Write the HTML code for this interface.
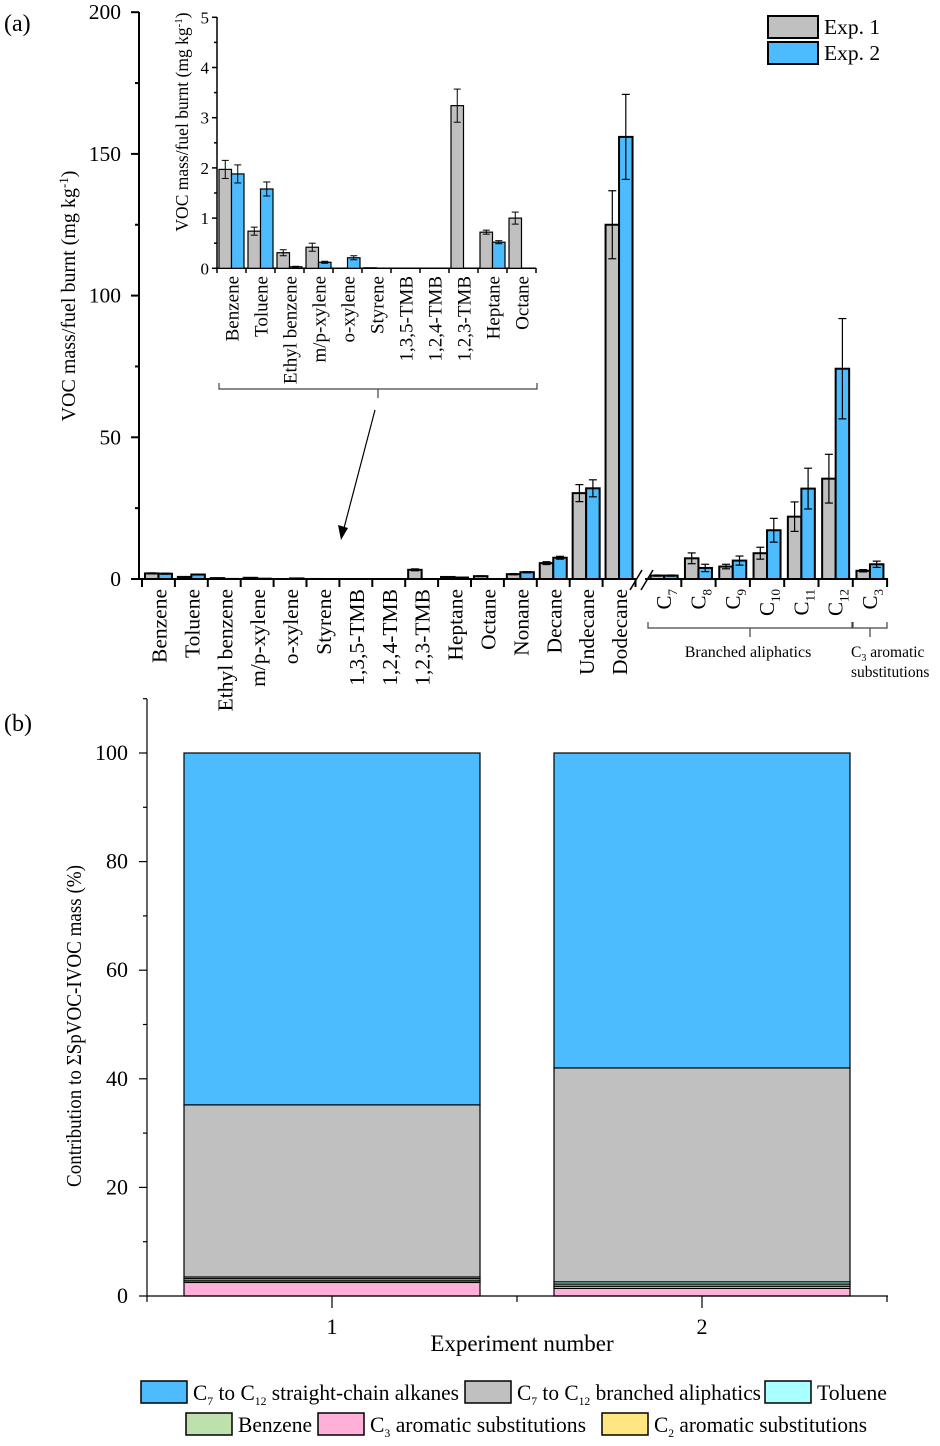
<!DOCTYPE html>
<html><head><meta charset="utf-8">
<style>
html,body{margin:0;padding:0;background:#fff;}
svg{display:block;font-family:"Liberation Serif",serif;}
</style></head>
<body>
<svg id="chart" width="940" height="1446" viewBox="0 0 940 1446" xmlns="http://www.w3.org/2000/svg"></svg>
<script>
// ---------- data (panel a) ----------
const straightCats = ["Benzene","Toluene","Ethyl benzene","m/p-xylene","o-xylene","Styrene","1,3,5-TMB","1,2,4-TMB","1,2,3-TMB","Heptane","Octane","Nonane","Decane","Undecane","Dodecane"];
const branchedCats = ["7","8","9","10","11","12","3"];
const exp1Values = [1.97,0.74,0.31,0.42,0,0.01,0,0,3.24,0.72,1.0,1.7,5.6,30.3,125, 1.2,7.3,4.4,9.1,22,35.4,2.9];
const exp2Values = [1.88,1.58,0.03,0.12,0.21,0,0,0,0,0.52,0,2.4,7.5,32,156, 1.2,3.9,6.5,17.2,31.9,74.2,5.2];
const exp1Errors = [0.18,0.08,0.06,0.08,0,0,0,0,0.33,0.04,0.12,0.2,0.5,3,12, 0.2,1.9,0.8,2.1,5.2,8.6,0.4];
const exp2Errors = [0.18,0.14,0.01,0.02,0.04,0,0,0,0,0.03,0,0.2,0.5,3,15, 0.2,1.3,1.6,4.2,7.2,17.7,1.1];
const mainTicks = [0,50,100,150,200];
const insetTicks = [0,1,2,3,4,5];
const insetCount = 11;
// ---------- data (panel b) ----------
const experiments = ["1","2"];
const stackNames = ["C3 aromatic substitutions","C2 aromatic substitutions","Benzene","Toluene","C7 to C12 branched aliphatics","C7 to C12 straight-chain alkanes"];
const stackExp1 = [2.5,0.3,0.4,0.3,31.7,64.8];
const stackExp2 = [1.4,0.4,0.4,0.4,39.4,58.0];
const pctTicks = [0,20,40,60,80,100];

const NS="http://www.w3.org/2000/svg";
const svg=document.getElementById('chart');
function mk(tag,attrs,parent){const e=document.createElementNS(NS,tag);for(const k in attrs)e.setAttribute(k,attrs[k]);(parent||svg).appendChild(e);return e;}
const GRAY="#c0c0c0",BLUE="#4cbcff";

// ===== Panel a =====
const yMain=v=>579-v*2.834;
const xSeg1=i=>142+32.9*(i+0.5);
const xSeg2=j=>647+34.3*(j+0.5);
const xCat=i=>i<straightCats.length?xSeg1(i):xSeg2(i-straightCats.length);

let t=mk('text',{x:4,y:31,'font-size':24});t.textContent="(a)";


const axA=mk('g',{stroke:'#000','stroke-width':2,fill:'none'});

mk('line',{x1:139,y1:12,x2:139,y2:580},axA);
mk('line',{x1:138,y1:579,x2:636,y2:579},axA);
mk('line',{x1:645,y1:579,x2:888,y2:579},axA);
for(let i=0;i<=straightCats.length;i++){const x=142+32.9*i;mk('line',{x1:x,y1:579,x2:x,y2:587},axA);}
for(let j=1;j<=branchedCats.length;j++){const x=647+34.3*j;mk('line',{x1:x,y1:579,x2:x,y2:587},axA);}
mk('line',{x1:630,y1:590,x2:642,y2:570,'stroke-width':1.5},axA);
mk('line',{x1:641,y1:590,x2:653,y2:570,'stroke-width':1.5},axA);
mainTicks.forEach(v=>{
  mk('line',{x1:131,y1:yMain(v),x2:139,y2:yMain(v)},axA);
  if(v<200) mk('line',{x1:135,y1:yMain(v+25),x2:139,y2:yMain(v+25)},axA);
  const tt=mk('text',{x:121,y:yMain(v)+7,'font-size':21.5,'text-anchor':'end'});tt.textContent=v;
  
});
t=mk('text',{transform:'translate(75,296) rotate(-90)','font-size':20,'text-anchor':'middle'});
t.innerHTML='VOC mass/fuel burnt (mg kg<tspan dy="-7" font-size="13">-1</tspan><tspan dy="7">)</tspan>';


function errBar(g,x,v,e,ys,cap){if(e<=0)return;
  mk('line',{x1:x,y1:ys(v-e),x2:x,y2:ys(v+e)},g);
  mk('line',{x1:x-cap,y1:ys(v+e),x2:x+cap,y2:ys(v+e)},g);
  mk('line',{x1:x-cap,y1:ys(Math.max(0,v-e)),x2:x+cap,y2:ys(Math.max(0,v-e))},g);}

const barsA=mk('g',{});
exp1Values.forEach((v,i)=>{
  const cx=xCat(i);const w=13.5;
  [[v,exp1Errors[i],GRAY,cx-w],[exp2Values[i],exp2Errors[i],BLUE,cx]].forEach((d,k)=>{
    if(d[0]<=0)return;
    const r=mk('rect',{x:d[3],y:yMain(d[0]),width:w,height:579-yMain(d[0]),fill:d[2],stroke:'#000','stroke-width':2},barsA);
    
    const eg=mk('g',{stroke:'#000','stroke-width':1.2},barsA);
    errBar(eg,d[3]+w/2,d[0],d[1],yMain,4);
  });
});
straightCats.forEach((c,i)=>{
  const tt=mk('text',{transform:`translate(${xCat(i)+8},589) rotate(-90)`,'font-size':21.5,'text-anchor':'end'});
  tt.textContent=c;
});
branchedCats.forEach((c,j)=>{
  const tt=mk('text',{transform:`translate(${xSeg2(j)+7},589) rotate(-90)`,'font-size':21,'text-anchor':'end'});
  tt.innerHTML='C<tspan dy="6" font-size="13">'+c+'</tspan>';
  
});
function brace(x1,x2,y,h){const m=(x1+x2)/2;
  return `M${x1},${y-6} L${x1},${y} L${m},${y} L${m},${y+h} M${m},${y} L${x2},${y} L${x2},${y-6}`;}
let b=mk('path',{d:brace(648,852,628,9),stroke:'#444',fill:'none','stroke-width':1.2});

b=mk('path',{d:brace(853,887,628,9),stroke:'#444',fill:'none','stroke-width':1.2});

t=mk('text',{x:748,y:657,'font-size':16,'text-anchor':'middle'});t.textContent="Branched  aliphatics";

t=mk('text',{x:851,y:657,'font-size':15.5});t.innerHTML='C<tspan dy="4" font-size="10">3</tspan><tspan dy="-4"> aromatic</tspan>';

t=mk('text',{x:851,y:677,'font-size':15.5});t.textContent="substitutions";


// legend a
const legA=mk('g',{});
[["Exp. 1",GRAY,16],["Exp. 2",BLUE,42]].forEach(d=>{
  const r=mk('rect',{x:768,y:d[2],width:50,height:22,fill:d[1],stroke:'#000','stroke-width':2},legA);
  
  const tt=mk('text',{x:824,y:d[2]+18,'font-size':21.5},legA);tt.textContent=d[0];
  
});

// inset
const yIn=v=>268.3-v*50.2;
const xIn=i=>217+29*(i+0.5);
const axI=mk('g',{stroke:'#000','stroke-width':1.5,fill:'none'});

mk('line',{x1:217,y1:17,x2:217,y2:269},axI);
mk('line',{x1:216,y1:268.3,x2:536,y2:268.3},axI);
for(let i=0;i<=insetCount;i++)mk('line',{x1:217+29*i,y1:268,x2:217+29*i,y2:273},axI);
insetTicks.forEach(v=>{mk('line',{x1:212,y1:yIn(v),x2:217,y2:yIn(v)},axI);
  if(v<5)mk('line',{x1:214,y1:yIn(v+0.5),x2:217,y2:yIn(v+0.5)},axI);
  const tt=mk('text',{x:209,y:yIn(v)+6,'font-size':17,'text-anchor':'end'});tt.textContent=v;
  });
t=mk('text',{transform:'translate(188,122) rotate(-90)','font-size':17.5,'text-anchor':'middle'});
t.innerHTML='VOC mass/fuel burnt (mg kg<tspan dy="-6" font-size="11">-1</tspan><tspan dy="6">)</tspan>';

for(let i=0;i<insetCount;i++){
  const cx=xIn(i),w=12.5;
  [[exp1Values[i],exp1Errors[i],GRAY,cx-w],[exp2Values[i],exp2Errors[i],BLUE,cx]].forEach((d,k)=>{
    if(d[0]<=0)return;
    const r=mk('rect',{x:d[3],y:yIn(d[0]),width:w,height:268.3-yIn(d[0]),fill:d[2],stroke:'#000','stroke-width':1.2});
    
    const eg=mk('g',{stroke:'#000','stroke-width':1});errBar(eg,d[3]+w/2,d[0],d[1],yIn,3.5);
  });
  const tt=mk('text',{transform:`translate(${cx+7},276) rotate(-90)`,'font-size':19,'text-anchor':'end'});
  tt.textContent=straightCats[i];
}
b=mk('path',{d:brace(219,537,389,9),stroke:'#444',fill:'none','stroke-width':1.2});

const ar=mk('g',{});
mk('line',{x1:375,y1:410,x2:344,y2:528,stroke:'#000','stroke-width':1.2},ar);
mk('path',{d:'M341,540 L338,525 L348,528 Z',fill:'#000'},ar);

// ===== Panel b =====
t=mk('text',{x:4,y:731,'font-size':24});t.textContent="(b)";

const yB=v=>1296-v*5.43;
const xBar=[184,554],bw=296;
const stackColors=["#ffb0d8","#ffe680","#bde0ad","#aaffff",GRAY,BLUE];
[stackExp1,stackExp2].forEach((vals,e)=>{
  let acc=0;
  vals.forEach((v,k)=>{
    const r=mk('rect',{x:xBar[e],y:yB(acc+v),width:bw,height:v*5.43,fill:stackColors[k],stroke:'#000','stroke-width':1.2});
    
    acc+=v;
  });
});
const axB=mk('g',{stroke:'#000','stroke-width':1.2,fill:'none'});

mk('line',{x1:147,y1:699,x2:147,y2:1296},axB);
mk('line',{x1:147,y1:1296,x2:888,y2:1296},axB);
pctTicks.forEach(v=>{mk('line',{x1:139,y1:yB(v),x2:147,y2:yB(v)},axB);
  mk('line',{x1:143,y1:yB(v+10),x2:147,y2:yB(v+10)},axB);
  const tt=mk('text',{x:128,y:yB(v)+7,'font-size':22,'text-anchor':'end'});tt.textContent=v;
  });
[147,517,887].forEach(x=>mk('line',{x1:x,y1:1296,x2:x,y2:1302},axB));
experiments.forEach((c,e)=>{const x=xBar[e]+bw/2;mk('line',{x1:x,y1:1296,x2:x,y2:1308},axB);
  const tt=mk('text',{x:x,y:1334,'font-size':22,'text-anchor':'middle'});tt.textContent=c;
  });
t=mk('text',{x:522,y:1351,'font-size':23,'text-anchor':'middle'});t.textContent="Experiment number";

t=mk('text',{transform:'translate(81,1026) rotate(-90)','font-size':21,'text-anchor':'middle',textLength:322,lengthAdjust:'spacingAndGlyphs'});t.textContent="Contribution to ΣSpVOC-IVOC mass (%)";


// legend b
const legB=[
 [141,1381,BLUE,'C<tspan dy="5" font-size="12">7</tspan><tspan dy="-5"> to C</tspan><tspan dy="5" font-size="12">12</tspan><tspan dy="-5"> straight-chain alkanes</tspan>',266],
 [465,1381,GRAY,'C<tspan dy="5" font-size="12">7</tspan><tspan dy="-5"> to C</tspan><tspan dy="5" font-size="12">12</tspan><tspan dy="-5"> branched aliphatics</tspan>',244],
 [765,1381,"#aaffff",'Toluene',70],
 [186,1413,"#bde0ad",'Benzene',74],
 [318,1413,"#ffb0d8",'C<tspan dy="5" font-size="12">3</tspan><tspan dy="-5"> aromatic  substitutions</tspan>',216],
 [602,1413,"#ffe680",'C<tspan dy="5" font-size="12">2</tspan><tspan dy="-5"> aromatic substitutions</tspan>',213]];
const lg=mk('g',{});
legB.forEach(d=>{
  const r=mk('rect',{x:d[0],y:d[1],width:46,height:22,fill:d[2],stroke:'#000','stroke-width':1.5},lg);
  
  const tt=mk('text',{x:d[0]+52,y:d[1]+19,'font-size':22,textLength:d[4],lengthAdjust:'spacingAndGlyphs'},lg);
  tt.innerHTML=d[3];
  
});
</script>
</body></html>
